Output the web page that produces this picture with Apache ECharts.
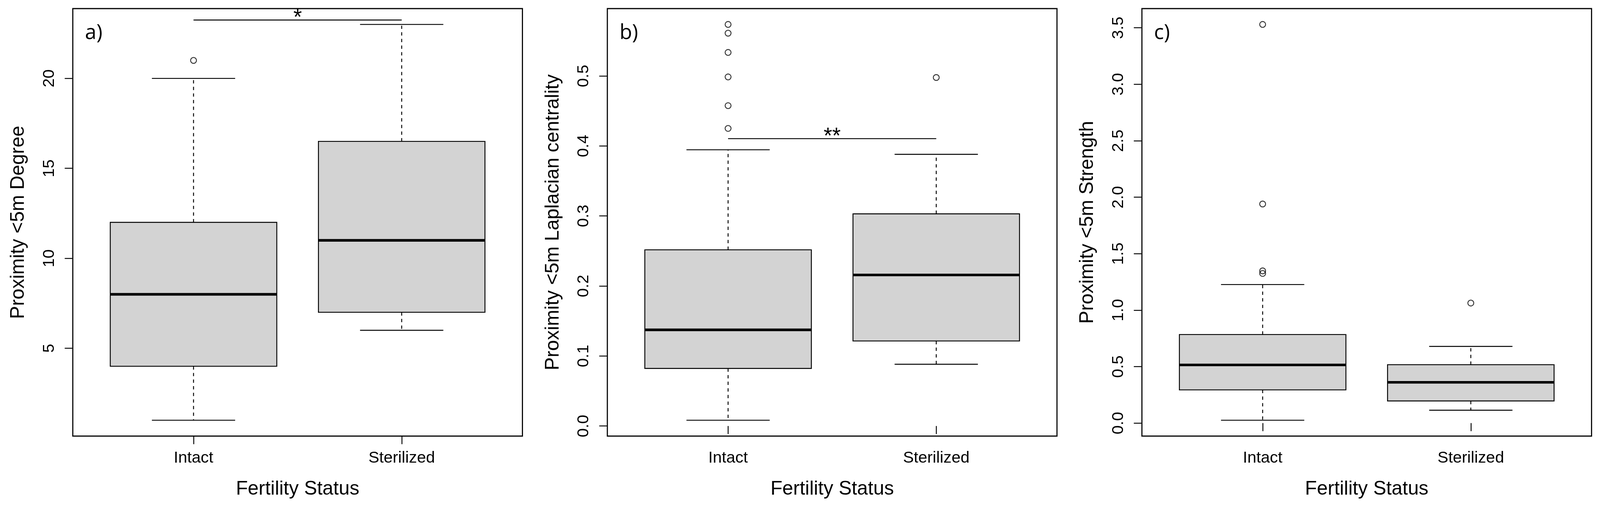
<!DOCTYPE html>
<html>
<head>
<meta charset="utf-8">
<script src="https://cdn.jsdelivr.net/npm/echarts@6/dist/echarts.min.js"></script>
<style>
html,body{margin:0;padding:0;background:#fff;overflow:hidden;}
#chart{width:100vw;height:100vh;}
</style>
</head>
<body>
<div id="chart"></div>
<script>
// ---- data ----
const categories = ['Intact', 'Sterilized'];
const xTitle = 'Fertility Status';
const panelLabels = ['a)', 'b)', 'c)'];
const yTitles = ['Proximity <5m Degree', 'Proximity <5m Laplacian centrality', 'Proximity <5m Strength'];

// [lower whisker, Q1, median, Q3, upper whisker] for Intact, Sterilized
const degreeBox = [[1, 4, 8, 12, 20], [6, 7, 11, 16.5, 23]];
const degreeOutliers = [[21], []];
const laplacianBox = [[0.0082, 0.0822, 0.1373, 0.2516, 0.3945], [0.0882, 0.1214, 0.2157, 0.303, 0.388]];
const laplacianOutliers = [[0.425, 0.4575, 0.4985, 0.5335, 0.561, 0.5735], [0.4977]];
const strengthBox = [[0.025, 0.294, 0.515, 0.784, 1.2265], [0.114, 0.196, 0.361, 0.517, 0.679]];
const strengthOutliers = [[1.325, 1.348, 1.94, 3.53], [1.063]];

// y ticks
const degreeTicks = [5, 10, 15, 20];
const laplacianTicks = [0, 0.1, 0.2, 0.3, 0.4, 0.5];
const strengthTicks = [0, 0.5, 1, 1.5, 2, 2.5, 3, 3.5];

// significance brackets: [from, to, y, label]
const degreeSig = [[1, 2, 23.245, '*']];
const laplacianSig = [[1, 2, 0.4104, '**']];
const strengthSig = [];

// ---- chart ----
const FONT = '"Liberation Sans", Arial, Helvetica, sans-serif';
const el = document.getElementById('chart');
const VW = el.clientWidth || window.innerWidth;
const VH = el.clientHeight || window.innerHeight;
const sx = VW / 4352, sy = VH / 1314, s = Math.min(sx, sy);

const panels = [
  {box: degreeBox, out: degreeOutliers, ticks: degreeTicks, sig: degreeSig, dec: 0},
  {box: laplacianBox, out: laplacianOutliers, ticks: laplacianTicks, sig: laplacianSig, dec: 1},
  {box: strengthBox, out: strengthOutliers, ticks: strengthTicks, sig: strengthSig, dec: 1}
];
// R-style axis range: data range extended 4%
function rRange(box, out) {
  let lo = Infinity, hi = -Infinity;
  box.forEach(b => { lo = Math.min(lo, b[0]); hi = Math.max(hi, b[4]); });
  out.forEach(o => o.forEach(v => { lo = Math.min(lo, v); hi = Math.max(hi, v); }));
  const d = (hi - lo) * 0.04;
  return [lo - d, hi + d];
}

const gridLefts = [198, 1652, 3106];
const GTOP = 22, GW = 1223, GH = 1095;

const grids = [], xAxes = [], yAxes = [], series = [], graphics = [];
panels.forEach((p, i) => {
  grids.push({left: gridLefts[i] * sx, top: GTOP * sy, width: GW * sx, height: GH * sy, show: true,
    borderColor: '#000', borderWidth: 3 * s, backgroundColor: 'transparent'});
  xAxes.push({type: 'value', gridIndex: i, min: 0.42, max: 2.58,
    axisLine: {show: false}, splitLine: {show: false},
    axisTick: {show: true, inside: false, length: 22 * s, customValues: [1, 2], lineStyle: {color: '#000', width: 2.5 * s}},
    axisLabel: {show: true, customValues: [1, 2], margin: 38 * s, fontSize: 44 * s, color: '#000', fontFamily: FONT,
      formatter: v => categories[Math.round(v) - 1]},
    name: xTitle, nameLocation: 'middle', nameGap: 118 * s,
    nameTextStyle: {fontSize: 53 * s, color: '#000', fontFamily: FONT}});
  const r = rRange(p.box, p.out);
  yAxes.push({type: 'value', gridIndex: i, min: r[0], max: r[1],
    axisLine: {show: false}, splitLine: {show: false},
    axisTick: {show: true, inside: false, length: 22 * s, customValues: p.ticks, lineStyle: {color: '#000', width: 2.5 * s}},
    axisLabel: {show: true, customValues: p.ticks, rotate: 90, margin: 42 * s, fontSize: 44 * s, color: '#000', fontFamily: FONT,
      formatter: v => Number(v).toFixed(p.dec)},
    name: yTitles[i], nameLocation: 'middle', nameRotate: 90, nameGap: 121 * s,
    nameTextStyle: {fontSize: 53 * s, color: '#000', fontFamily: FONT}});

  series.push({type: 'custom', xAxisIndex: i, yAxisIndex: i, z: 3,
    data: p.box.map((b, k) => [k + 1, b[0], b[1], b[2], b[3], b[4]]),
    renderItem: function (params, api) {
      const x = api.value(0);
      const lo = api.coord([x, api.value(1)]);
      const q1 = api.coord([x, api.value(2)]);
      const md = api.coord([x, api.value(3)]);
      const q3 = api.coord([x, api.value(4)]);
      const hi = api.coord([x, api.value(5)]);
      const hw = api.size([0.4, 0])[0];
      const sw = api.size([0.2, 0])[0];
      const cx = lo[0];
      const dash = {stroke: '#000', lineWidth: 2.5 * s, lineDash: [9 * s, 9 * s]};
      const solid = {stroke: '#000', lineWidth: 2.5 * s};
      return {type: 'group', children: [
        {type: 'line', shape: {x1: cx, y1: q3[1], x2: cx, y2: hi[1]}, style: dash},
        {type: 'line', shape: {x1: cx, y1: q1[1], x2: cx, y2: lo[1]}, style: dash},
        {type: 'line', shape: {x1: cx - sw, y1: hi[1], x2: cx + sw, y2: hi[1]}, style: solid},
        {type: 'line', shape: {x1: cx - sw, y1: lo[1], x2: cx + sw, y2: lo[1]}, style: solid},
        {type: 'rect', shape: {x: cx - hw, y: q3[1], width: 2 * hw, height: q1[1] - q3[1]},
          style: {fill: '#d3d3d3', stroke: '#000', lineWidth: 2.5 * s}},
        {type: 'line', shape: {x1: cx - hw, y1: md[1], x2: cx + hw, y2: md[1]}, style: {stroke: '#000', lineWidth: 7 * s}}
      ]};
    }});

  const outData = [];
  p.out.forEach((o, k) => o.forEach(v => outData.push([k + 1, v])));
  series.push({type: 'scatter', xAxisIndex: i, yAxisIndex: i, z: 4, data: outData,
    symbol: 'circle', symbolSize: 16 * s,
    itemStyle: {color: 'rgba(0,0,0,0)', borderColor: '#000', borderWidth: 2.5 * s}});

  if (p.sig.length) {
    series.push({type: 'custom', xAxisIndex: i, yAxisIndex: i, z: 4,
      data: p.sig.map(q => [q[0], q[1], q[2]]),
      renderItem: function (params, api) {
        const a = api.coord([api.value(0), api.value(2)]);
        const b = api.coord([api.value(1), api.value(2)]);
        const label = p.sig[params.dataIndex][3];
        return {type: 'group', children: [
          {type: 'line', shape: {x1: a[0], y1: a[1], x2: b[0], y2: b[1]}, style: {stroke: '#000', lineWidth: 2.5 * s}},
          {type: 'text', style: {text: label, x: (a[0] + b[0]) / 2, y: a[1] - 4 * s,
            align: 'center', verticalAlign: 'middle', font: (60 * s) + 'px ' + FONT, fill: '#000'}}
        ]};
      }});
  }

  graphics.push({type: 'text', x: (gridLefts[i] + 33) * sx, y: 58 * sy,
    style: {text: panelLabels[i], font: (56 * s) + 'px "Open Sans", "Noto Sans", sans-serif', fill: '#000'}});
});

const chart = echarts.init(el, null, {renderer: 'canvas'});
chart.setOption({
  animation: false,
  backgroundColor: '#fff',
  textStyle: {fontFamily: FONT},
  grid: grids, xAxis: xAxes, yAxis: yAxes, series: series, graphic: graphics
});
</script>
</body>
</html>
